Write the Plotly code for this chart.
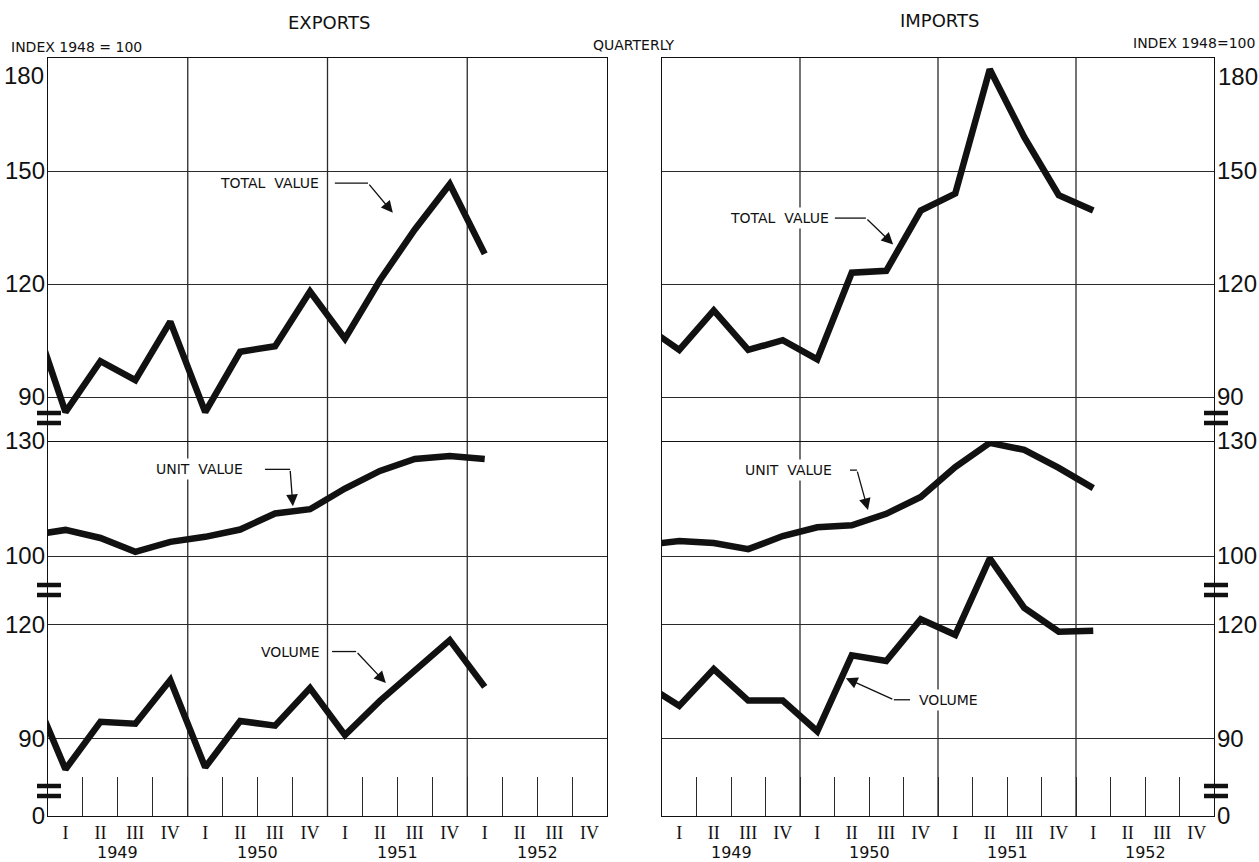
import plotly.graph_objects as go

# ---------------- data ----------------
CATEGORIES = ["1948 IV",
              "1949 I", "1949 II", "1949 III", "1949 IV",
              "1950 I", "1950 II", "1950 III", "1950 IV",
              "1951 I", "1951 II", "1951 III", "1951 IV",
              "1952 I", "1952 II", "1952 III", "1952 IV"]
DATA_QUARTERS = CATEGORIES[:14]          # 1948 IV .. 1952 I
QUARTER_LABELS = ["I", "II", "III", "IV"] * 4
YEARS = ["1949", "1950", "1951", "1952"]

exports_total = [113.5, 86.0, 99.5, 94.5, 110.0, 86.0, 102.0, 103.5, 118.0, 105.5, 121.0, 134.5, 146.5, 128.0]
exports_unit = [105.4, 106.8, 104.7, 101.1, 103.7, 105.0, 106.9, 111.1, 112.2, 117.6, 122.2, 125.3, 126.1, 125.3]
exports_volume = [103.8, 82.0, 94.5, 94.0, 105.5, 82.5, 94.7, 93.5, 103.4, 91.0, 100.0, 108.0, 116.0, 103.7]

imports_total = [108.9, 102.5, 113.0, 102.5, 105.1, 100.0, 123.0, 123.5, 139.5, 144.0, 177.0, 159.0, 143.6, 139.5]
imports_unit = [102.9, 103.9, 103.4, 101.8, 105.2, 107.5, 108.0, 111.0, 115.4, 123.2, 129.5, 127.7, 123.0, 117.7]
imports_volume = [104.5, 98.7, 108.4, 100.1, 100.1, 92.0, 112.0, 110.5, 121.5, 117.4, 137.5, 124.5, 118.2, 118.5]

TOTAL_TICKS = [90, 120, 150, 180]
TOTAL_TICKTEXT = ["90", "120", "150", ""]   # "180" is set lower, as an annotation
UNIT_TICKS = [100, 130]
UNIT_TICKTEXT = ["100", "130"]
VOLUME_TICKS = [69.71, 90, 120]
VOLUME_TICKTEXT = ["0", "90", "120"]

# ---------------- geometry ----------------
W, H = 1259, 862
ML, MT, MR, MB = 48, 58, 45, 46
PW, PH = W - ML - MR, H - MT - MB


def px(x):
    """picture x pixel -> paper fraction"""
    return (x - ML) / PW


def py(y):
    """picture y pixel -> paper fraction"""
    return (H - MB - y) / PH


LEFT_DOM = [0, px(607)]
RIGHT_DOM = [px(662), 1]
TOTAL_DOM = [py(441), 1]
UNIT_DOM = [py(590), py(441)]
VOL_DOM = [0, py(545)]

TOTAL_RANGE = [78.32, 180]
UNIT_RANGE = [91.13, 130]
VOL_RANGE = [69.7, 141.05]

INK = "#111111"
GRID = "#2a2a2a"
LINE_W = 6.5
TICK_FONT = dict(family="Liberation Sans, Arial, sans-serif", size=24, color=INK)
LABEL_FONT = dict(family="DejaVu Sans, Liberation Sans, sans-serif", size=14, color=INK)

fig = go.Figure()

panels = [
    ("left", LEFT_DOM, exports_total, exports_unit, exports_volume, 1),
    ("right", RIGHT_DOM, imports_total, imports_unit, imports_volume, 4),
]

for side, xdom, tot, uni, vol, base in panels:
    series = [(tot, TOTAL_DOM, TOTAL_RANGE, TOTAL_TICKS, TOTAL_TICKTEXT),
              (uni, UNIT_DOM, UNIT_RANGE, UNIT_TICKS, UNIT_TICKTEXT),
              (vol, VOL_DOM, VOL_RANGE, VOLUME_TICKS, VOLUME_TICKTEXT)]
    for k, (vals, ydom, yrng, tv, tt) in enumerate(series):
        n = base + k
        xs = "x" if n == 1 else f"x{n}"
        ys = "y" if n == 1 else f"y{n}"
        xkey = "xaxis" if n == 1 else f"xaxis{n}"
        ykey = "yaxis" if n == 1 else f"yaxis{n}"
        fig.add_trace(go.Scatter(x=DATA_QUARTERS, y=vals, mode="lines",
                                 line=dict(color=INK, width=LINE_W),
                                 xaxis=xs, yaxis=ys, showlegend=False,
                                 hoverinfo="skip"))
        xa = dict(domain=xdom, anchor=ys, type="category",
                  categoryorder="array", categoryarray=CATEGORIES,
                  range=[0.5, 16.5], showgrid=False, zeroline=False,
                  automargin=False, fixedrange=True,
                  linecolor=INK, linewidth=1.4)
        if k == 0:
            xa.update(showline=True, mirror=True, showticklabels=False, ticks="")
        elif k == 1:
            xa.update(showline=False, showticklabels=False, ticks="")
        else:
            xa.update(showline=True, mirror=False, showticklabels=True,
                      tickmode="array", tickvals=CATEGORIES[1:], ticktext=QUARTER_LABELS,
                      tickson="boundaries", ticks="inside", ticklen=39,
                      tickwidth=1.2, tickcolor=GRID,
                      tickfont=dict(family="Liberation Serif, DejaVu Serif, serif", size=18, color=INK))
        ya = dict(domain=ydom, anchor=xs, range=yrng, side=side,
                  tickmode="array", tickvals=tv, ticktext=tt, ticks="",
                  showgrid=True, gridcolor=GRID, gridwidth=1.2,
                  zeroline=False, showline=True, mirror=True,
                  linecolor=INK, linewidth=1.4, tickfont=TICK_FONT,
                  ticklabelstandoff=-3, automargin=False, fixedrange=True)
        fig.layout[xkey] = xa
        fig.layout[ykey] = ya

# year grid lines (full panel height)
shapes = []
for xref in ("x", "x4"):
    for b in (4.5, 8.5, 12.5):
        shapes.append(dict(type="line", xref=xref, yref="paper", x0=b, x1=b, y0=0, y1=1,
                           line=dict(color=GRID, width=1.3), layer="below"))

# axis-break marks
for xa_, xb_ in ((37, 61), (1204, 1228)):
    for yy in (413, 423, 585, 595, 786, 796):
        shapes.append(dict(type="line", xref="paper", yref="paper",
                           x0=px(xa_), x1=px(xb_), y0=py(yy), y1=py(yy),
                           line=dict(color=INK, width=4.5), layer="above"))

annotations = []
# year labels
for xref in ("x3", "x6"):
    for i, yr in enumerate(YEARS):
        annotations.append(dict(text=yr, xref=xref, yref="paper", x=2.5 + 4 * i, y=py(852),
                                showarrow=False, xanchor="center", yanchor="middle",
                                font=dict(family="DejaVu Sans, sans-serif", size=16, color=INK)))

# top "180" labels, set just below the frame as in the original
annotations += [
    dict(text="180", xref="paper", yref="paper", x=px(46), y=py(75), showarrow=False,
         xanchor="right", yanchor="middle", font=TICK_FONT),
    dict(text="180", xref="paper", yref="paper", x=px(1216), y=py(76), showarrow=False,
         xanchor="left", yanchor="middle", font=TICK_FONT),
]

# titles
TITLE_FONT = dict(family="DejaVu Sans, sans-serif", size=18, color=INK)
SMALL_FONT = dict(family="DejaVu Sans, sans-serif", size=14, color=INK)
annotations += [
    dict(text="EXPORTS", xref="paper", yref="paper", x=px(329), y=py(22), showarrow=False,
         xanchor="center", yanchor="middle", font=TITLE_FONT),
    dict(text="IMPORTS", xref="paper", yref="paper", x=px(939), y=py(20), showarrow=False,
         xanchor="center", yanchor="middle", font=TITLE_FONT),
    dict(text="QUARTERLY", xref="paper", yref="paper", x=px(634), y=py(45), showarrow=False,
         xanchor="center", yanchor="middle", font=SMALL_FONT),
    dict(text="INDEX 1948 = 100", xref="paper", yref="paper", x=px(9), y=py(47), showarrow=False,
         xanchor="left", yanchor="middle", font=SMALL_FONT),
    dict(text="INDEX 1948=100", xref="paper", yref="paper", x=px(1257), y=py(43), showarrow=False,
         xanchor="right", yanchor="middle", font=SMALL_FONT),
]

# series labels with leaders: (xaxis, yaxis, text, text_x, text_y, lead_x0, lead_x1, tip_x, tip_y)
labels = [
    ("x", "y", "TOTAL\u00a0\u00a0VALUE", 6.85, 146.8, 8.71, 9.66, 10.37, 138.9),
    ("x2", "y2", "UNIT\u00a0\u00a0VALUE", 4.85, 122.6, 6.71, 7.43, 7.51, 113.0),
    ("x3", "y3", "VOLUME", 7.43, 113.0, 8.63, 9.32, 10.17, 104.7),
    ("x4", "y4", "TOTAL\u00a0\u00a0VALUE", 3.92, 137.5, 5.51, 6.41, 7.2, 130.5),
    ("x5", "y5", "UNIT\u00a0\u00a0VALUE", 4.18, 122.4, 5.95, 6.15, 6.47, 112.0),
    ("x6", "y6", "VOLUME", 8.79, 100.3, 7.69, 7.22, 5.83, 106.0),
]
for xr, yr, txt, tx, ty, l0, l1, ax, ay in labels:
    annotations.append(dict(text=txt, xref=xr, yref=yr, x=tx, y=ty, showarrow=False,
                            xanchor="center", yanchor="middle",
                            font=LABEL_FONT, bgcolor="white", borderpad=2))
    shapes.append(dict(type="line", xref=xr, yref=yr, x0=l0, x1=l1, y0=ty, y1=ty,
                       line=dict(color=INK, width=1.3), layer="above"))
    annotations.append(dict(text="", xref=xr, yref=yr, x=ax, y=ay, axref=xr, ayref=yr,
                            ax=l1, ay=ty, showarrow=True, arrowhead=2, arrowsize=1.8,
                            arrowwidth=1.3, arrowcolor=INK, standoff=0, startstandoff=0))

fig.update_layout(width=W, height=H, margin=dict(l=ML, r=MR, t=MT, b=MB, pad=0, autoexpand=False),
                  paper_bgcolor="white", plot_bgcolor="rgba(0,0,0,0)",
                  shapes=shapes, annotations=annotations, showlegend=False)

# the page's default 8px body margin would shift the 1259x862 figure; remove it
fig.write_html("out.html", config={"displayModeBar": False},
               post_script="document.body.style.margin='0px';")
